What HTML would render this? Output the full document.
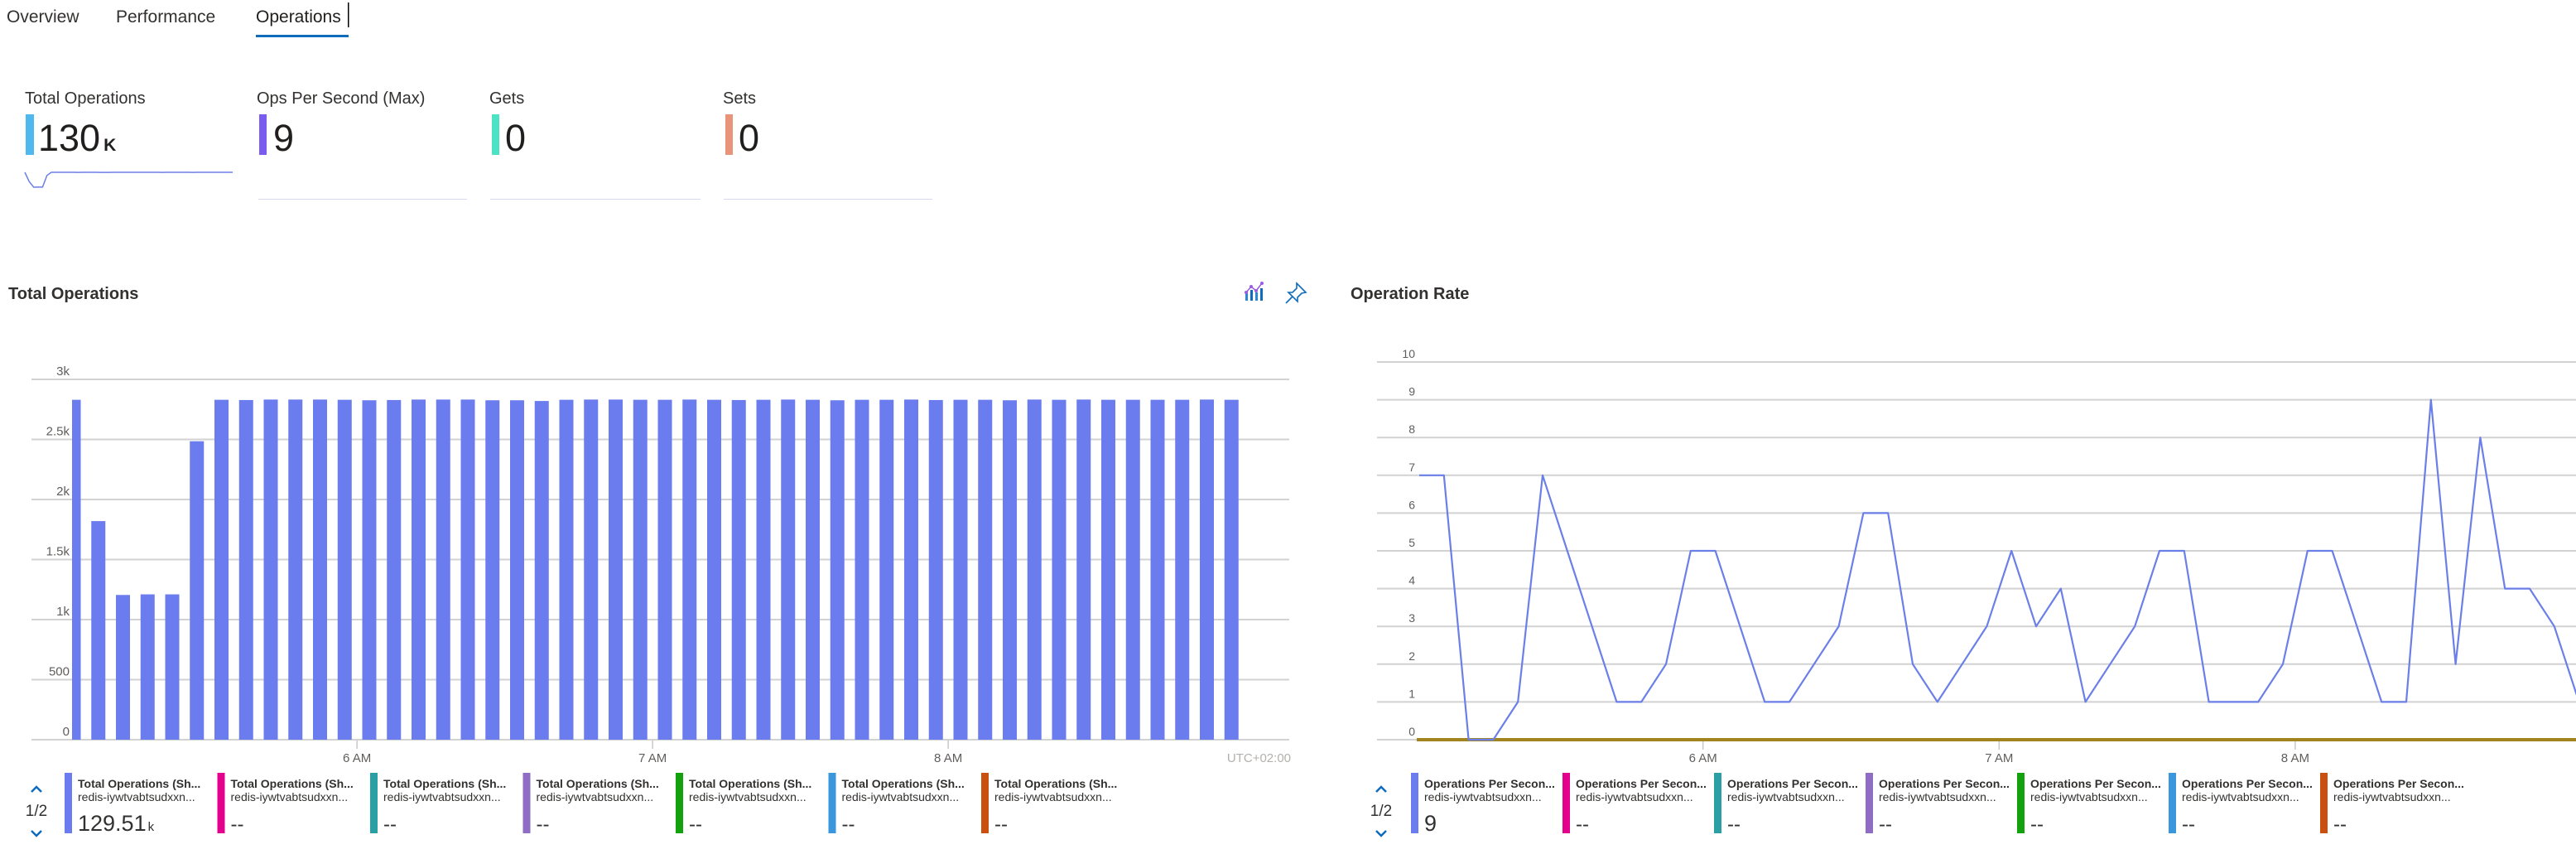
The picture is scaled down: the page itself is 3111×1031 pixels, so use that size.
<!DOCTYPE html>
<html><head><meta charset="utf-8">
<style>
html,body{margin:0;padding:0;background:#fff;}
body{width:3111px;height:1026px;overflow:hidden;position:relative;font-family:"Liberation Sans",sans-serif;color:#323130;}
svg text{font-family:"Liberation Sans",sans-serif;}
</style></head>
<body>
<svg id="page" width="3111" height="1026" viewBox="0 0 3111 1026" xmlns="http://www.w3.org/2000/svg">
  <g>
    <text x="8" y="27" font-size="21" fill="#323130">Overview</text>
    <text x="140" y="27" font-size="21" fill="#323130">Performance</text>
    <text x="309" y="27" font-size="21" fill="#201f1e">Operations</text>
    <rect x="309" y="42" width="112" height="3" fill="#0f6cbd"/>
    <rect x="420" y="3" width="1.5" height="30" fill="#000"/>
  </g>
  <g>
    <text x="30" y="125" font-size="20" fill="#323130">Total Operations</text>
    <rect x="31" y="138" width="10" height="49" fill="#4fb8ef"/>
    <text x="46" y="182" font-size="45" fill="#201f1e">130<tspan font-size="21" font-weight="bold" dx="4">K</tspan></text>
    <path id="spark" fill="none" stroke="#6b7fe8" stroke-width="1.5"/>
  </g>
  <g>
    <text x="310" y="125" font-size="20" fill="#323130">Ops Per Second (Max)</text>
    <rect x="313" y="138" width="9" height="49" fill="#7b5cf0"/>
    <text x="330" y="182" font-size="45" fill="#201f1e">9</text>
    <rect x="312" y="240" width="252" height="1" fill="#d6d9ee"/>
  </g>
  <g>
    <text x="591" y="125" font-size="20" fill="#323130">Gets</text>
    <rect x="594" y="138" width="9" height="49" fill="#4be3c3"/>
    <text x="610" y="182" font-size="45" fill="#201f1e">0</text>
    <rect x="592" y="240" width="254" height="1" fill="#d6d9ee"/>
  </g>
  <g>
    <text x="873" y="125" font-size="20" fill="#323130">Sets</text>
    <rect x="876" y="138" width="9" height="49" fill="#e8937a"/>
    <text x="892" y="182" font-size="45" fill="#201f1e">0</text>
    <rect x="874" y="240" width="252" height="1" fill="#d6d9ee"/>
  </g>
  <text x="10" y="361" font-size="20" font-weight="bold" fill="#323130">Total Operations</text>
  <g>
    <rect x="1504" y="354" width="3" height="9" fill="#2b88d8"/>
    <rect x="1510" y="350" width="3" height="13" fill="#0f6cbd"/>
    <rect x="1516" y="353" width="3" height="10" fill="#2b88d8"/>
    <rect x="1522" y="348" width="3" height="15" fill="#0f6cbd"/>
    <polyline points="1505,353 1511,346 1517,351 1524,342" fill="none" stroke="#9a5ce6" stroke-width="1.5"/>
    <circle cx="1505" cy="353" r="2" fill="#9a5ce6"/><circle cx="1511" cy="346" r="2" fill="#9a5ce6"/>
    <circle cx="1517" cy="351" r="2" fill="#9a5ce6"/><circle cx="1524" cy="342" r="2" fill="#9a5ce6"/>
  </g>
  <g fill="none" stroke="#0f6cbd" stroke-width="1.6">
    <path d="M1566,342 L1577,353 L1572,354 L1567,359 L1567,364 L1556,353 L1561,353 L1566,348 Z"/>
    <line x1="1561" y1="358" x2="1553" y2="366"/>
  </g>
  <text x="1631" y="361" font-size="20" font-weight="bold" fill="#323130">Operation Rate</text>

  <g id="leftChart"></g>
  <g id="rightChart"></g>
  <g id="leftLegend"></g>
  <g id="rightLegend"></g>
</svg>
<script>
const totalOpsValues = [2830,1820,1205,1210,1210,2485,2830,2828,2832,2832,2832,2830,2826,2828,2832,2832,2832,2826,2826,2820,2830,2832,2832,2830,2830,2832,2830,2828,2830,2832,2830,2826,2830,2830,2832,2828,2830,2830,2826,2832,2830,2832,2830,2830,2830,2830,2832,2830];
const opsRateValues = [7,7,0,0,1,7,5,3,1,1,2,5,5,3,1,1,2,3,6,6,2,1,2,3,5,3,4,1,2,3,5,5,1,1,1,2,5,5,3,1,1,9,2,8,4,4,3,1];
const timeTickLabels = ['6 AM','7 AM','8 AM'];
const timeTickIndex = [11.5,23.5,35.5];
const leftYTicks = [0,500,1000,1500,2000,2500,3000];
const leftYLabels = ['0','500','1k','1.5k','2k','2.5k','3k'];
const rightYTicks = [0,1,2,3,4,5,6,7,8,9,10];
const legendColors = ['#6a7cee','#e3008c','#2aa0a4','#8f6dc4','#13a10e','#3a96dd','#ca5010'];
const leftLegendValue = '129.51';
const rightLegendValue = '9';

const NS='http://www.w3.org/2000/svg';
function mk(tag, attrs, parent){const e=document.createElementNS(NS,tag);for(const k in attrs)e.setAttribute(k,attrs[k]);parent.appendChild(e);return e;}

const xL = i => 89 + i*29.75;
const yL = v => 893 - v/3000*435;
const xR = i => 1714 + i*29.8;
const yR = v => 893 - v*45.6;

const L = document.getElementById('leftChart');
leftYTicks.forEach((t,k)=>{
  const g = mk('line',{x1:38,x2:1557,y1:yL(t),y2:yL(t),stroke:'#d2d2d2','stroke-width':2},L);
  
  
  const tx = mk('text',{x:84,y:yL(t)-5,'text-anchor':'end','font-size':15,fill:'#605e5c'},L);
  tx.textContent = leftYLabels[k];
  
  
});
const clip = mk('clipPath',{id:'lclip'},L);
mk('rect',{x:87,y:400,width:1470,height:500},clip);
const bars = mk('g',{'clip-path':'url(#lclip)'},L);
totalOpsValues.forEach((v,i)=>{
  const b = mk('rect',{x:xL(i)-8.5,y:yL(v),width:17,height:yL(0)-yL(v),fill:'#6a7cee'},bars);
  
  
});
timeTickIndex.forEach((ti,k)=>{
  mk('line',{x1:xL(ti),x2:xL(ti),y1:894,y2:904,stroke:'#c8c8c8','stroke-width':1.5},L);
  const tx = mk('text',{x:xL(ti),y:920,'text-anchor':'middle','font-size':15,fill:'#605e5c'},L);
  tx.textContent = timeTickLabels[k];
  
  
});
const tz = mk('text',{x:1559,y:920,'text-anchor':'end','font-size':15,fill:'#b3b0ad'},L);
tz.textContent='UTC+02:00';



(function(){
  const mx=Math.max(...totalOpsValues), mn=Math.min(...totalOpsValues);
  let d='';
  totalOpsValues.forEach((v,i)=>{
    const x=30+i*(251/(totalOpsValues.length-1));
    const y=208+(mx-v)/(mx-mn)*18;
    d+=(i?'L':'M')+x.toFixed(1)+','+y.toFixed(1);
  });
  document.getElementById('spark').setAttribute('d',d);
})();

const R = document.getElementById('rightChart');
rightYTicks.forEach(t=>{
  const g = mk('line',{x1:1663,x2:3111,y1:yR(t),y2:yR(t),stroke:'#d2d2d2','stroke-width':2},R);
  
  
  const tx = mk('text',{x:1709,y:yR(t)-5,'text-anchor':'end','font-size':14,fill:'#605e5c'},R);
  tx.textContent = String(t);
  
  
});
const zero = mk('line',{x1:xR(0)-3,x2:3111,y1:yR(0),y2:yR(0),stroke:'#a2841e','stroke-width':4},R);


let pts = opsRateValues.map((v,i)=>xR(i).toFixed(1)+','+yR(v).toFixed(1)).join(' ');
const pl = mk('polyline',{points:pts,fill:'none',stroke:'#6b7fe8','stroke-width':2.2,'stroke-linejoin':'round'},R);


timeTickIndex.forEach((ti,k)=>{
  mk('line',{x1:xR(ti),x2:xR(ti),y1:895,y2:905,stroke:'#c8c8c8','stroke-width':1.5},R);
  const tx = mk('text',{x:xR(ti),y:920,'text-anchor':'middle','font-size':15,fill:'#605e5c'},R);
  tx.textContent = timeTickLabels[k];
  
  
});

function legend(parent, x0, pitch, title, valueText, unit, arrowX){
  const up = mk('path',{d:`M${arrowX-6},956 L${arrowX},950 L${arrowX+6},956`,fill:'none',stroke:'#0f6cbd','stroke-width':2.5},parent);
  
  
  const pg = mk('text',{x:arrowX,y:985,'text-anchor':'middle','font-size':19,fill:'#323130'},parent);
  pg.textContent='1/2';
  
  
  const dn = mk('path',{d:`M${arrowX-6},1003 L${arrowX},1009 L${arrowX+6},1003`,fill:'none',stroke:'#0f6cbd','stroke-width':2.5},parent);
  
  
  legendColors.forEach((c,i)=>{
    const x = x0 + i*pitch;
    const g = mk('g',{},parent);
    
    
    mk('rect',{x:x,y:933,width:9,height:73,fill:c},g);
    const t1 = mk('text',{x:x+16,y:951,'font-size':14,fill:'#323130','font-weight':'bold'},g);
    t1.textContent = title;
    const t2 = mk('text',{x:x+16,y:967,'font-size':14,fill:'#323130'},g);
    t2.textContent = 'redis-iywtvabtsudxxn...';
    const t3 = mk('text',{x:x+16,y:1003,'font-size':i===0?27:24,fill:'#323130'},g);
    if(i===0){ t3.textContent = valueText; if(unit){const ts=mk('tspan',{'font-size':15,dx:2},t3); ts.textContent=unit;} }
    else t3.textContent='--';
  });
}
legend(document.getElementById('leftLegend'), 78, 184.5, 'Total Operations (Sh...', leftLegendValue, 'k', 44);
legend(document.getElementById('rightLegend'), 1704, 183, 'Operations Per Secon...', rightLegendValue, '', 1668);
</script>
</body></html>
